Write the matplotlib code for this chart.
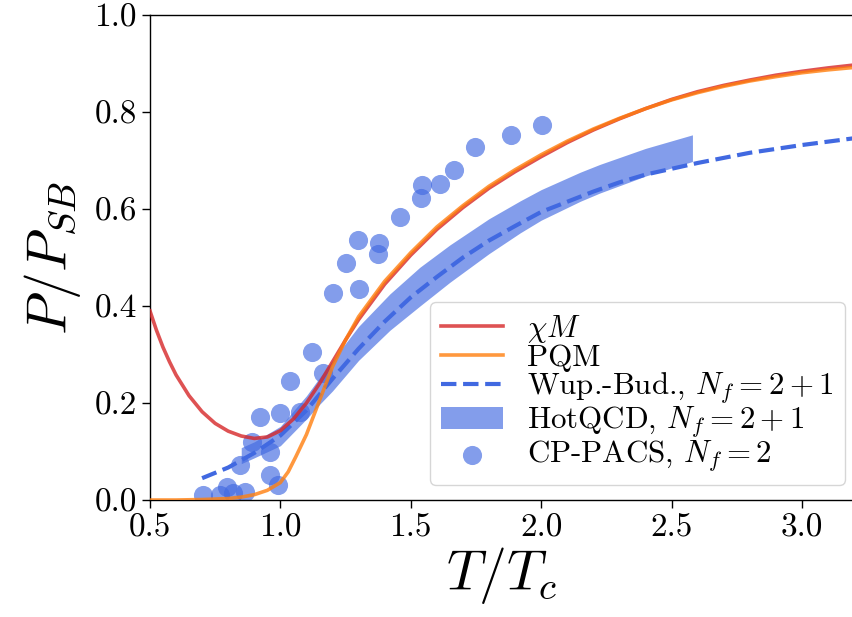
import numpy as np
import matplotlib
matplotlib.use("Agg")
import matplotlib.pyplot as plt

plt.rcParams['font.family'] = 'serif'
plt.rcParams['font.serif'] = ['cmr10', 'DejaVu Serif']
plt.rcParams['mathtext.fontset'] = 'cm'
plt.rcParams['axes.formatter.use_mathtext'] = True

# chiM model
chim_T = [0.5, 0.525, 0.55, 0.575, 0.6, 0.65, 0.7, 0.75, 0.8, 0.85, 0.9, 0.95, 1.0, 1.05,
          1.1, 1.15, 1.2, 1.25, 1.3, 1.4, 1.5, 1.6, 1.7, 1.8, 1.9, 2.0, 2.1, 2.2, 2.3,
          2.4, 2.5, 2.6, 2.7, 2.8, 2.9, 3.0, 3.1, 3.2]
chim_P = [0.39, 0.35, 0.315, 0.285, 0.258, 0.215, 0.182, 0.158, 0.142, 0.132, 0.127,
          0.13, 0.143, 0.167, 0.2, 0.24, 0.285, 0.33, 0.372, 0.445, 0.505, 0.558, 0.603,
          0.643, 0.677, 0.708, 0.737, 0.763, 0.786, 0.807, 0.826, 0.842, 0.855, 0.866,
          0.876, 0.884, 0.891, 0.897]

# PQM model
pqm_T = [0.5, 0.6, 0.7, 0.8, 0.85, 0.9, 0.95, 1.0, 1.03, 1.06, 1.1, 1.15, 1.2, 1.25,
         1.3, 1.4, 1.5, 1.6, 1.7, 1.8, 1.9, 2.0, 2.1, 2.2, 2.3, 2.4, 2.5, 2.6, 2.7,
         2.8, 2.9, 3.0, 3.1, 3.2]
pqm_P = [0.0, 0.0, 0.001, 0.003, 0.006, 0.011, 0.02, 0.036, 0.058, 0.09, 0.135, 0.205,
         0.275, 0.33, 0.378, 0.451, 0.51, 0.563, 0.607, 0.647, 0.681, 0.712, 0.74, 0.765,
         0.787, 0.807, 0.825, 0.84, 0.853, 0.864, 0.873, 0.881, 0.887, 0.892]

# Wuppertal-Budapest, Nf=2+1
wb_T = [0.7, 0.8, 0.9, 1.0, 1.1, 1.2, 1.3, 1.4, 1.5, 1.6, 1.7, 1.8, 1.9, 2.0, 2.1,
        2.2, 2.3, 2.4, 2.6, 2.8, 3.0, 3.2]
wb_P = [0.045, 0.067, 0.097, 0.133, 0.185, 0.25, 0.312, 0.368, 0.418, 0.46, 0.50,
        0.535, 0.565, 0.594, 0.615, 0.636, 0.655, 0.671, 0.695, 0.716, 0.732, 0.746]

# HotQCD band, Nf=2+1
hq_T = [0.85, 0.9, 1.0, 1.1, 1.15, 1.2, 1.3, 1.42, 1.535, 1.65, 1.8, 1.92, 2.0, 2.15,
        2.225, 2.4, 2.58]
hq_lo = [0.075, 0.087, 0.112, 0.167, 0.197, 0.225, 0.288, 0.35, 0.40, 0.449, 0.508,
         0.551, 0.577, 0.616, 0.633, 0.668, 0.698]
hq_hi = [0.108, 0.12, 0.152, 0.215, 0.252, 0.288, 0.358, 0.425, 0.48, 0.526, 0.58,
         0.617, 0.64, 0.676, 0.692, 0.725, 0.753]

# CP-PACS, Nf=2
cp_T = [0.704, 0.768, 0.794, 0.819, 0.864, 0.845, 0.89, 0.922, 0.96, 0.96, 0.992,
        0.998, 1.037, 1.075, 1.122, 1.165, 1.203, 1.252, 1.299, 1.303, 1.376, 1.378,
        1.459, 1.538, 1.544, 1.612, 1.666, 1.746, 1.884, 2.002]
cp_P = [0.010, 0.010, 0.027, 0.014, 0.017, 0.072, 0.12, 0.172, 0.10, 0.052, 0.031,
        0.179, 0.245, 0.182, 0.305, 0.262, 0.426, 0.489, 0.536, 0.436, 0.507, 0.530,
        0.584, 0.623, 0.649, 0.651, 0.68, 0.728, 0.753, 0.773]

xticks = [0.5, 1.0, 1.5, 2.0, 2.5, 3.0]
yticks = [0.0, 0.2, 0.4, 0.6, 0.8, 1.0]

fig = plt.figure(figsize=(8.52, 6.17), dpi=100)
ax = fig.add_axes([0.176, 0.1896, 0.8265, 0.786])

ax.plot(chim_T, chim_P, color='tab:red', alpha=0.8, lw=2.6, label=r'$\chi M$', zorder=3)
ax.plot(pqm_T, pqm_P, color='tab:orange', alpha=0.8, lw=2.6, label='PQM', zorder=3)
ax.plot(wb_T, wb_P, color='royalblue', lw=3, ls='--', label=r'Wup.-Bud., $N_f=2+1$', zorder=2)
ax.fill_between(hq_T, hq_lo, hq_hi, color='royalblue', alpha=0.65, lw=0,
                label=r'HotQCD, $N_f=2+1$', zorder=1)
ax.scatter(cp_T, cp_P, s=190, color='royalblue', alpha=0.65, lw=0,
           label=r'CP-PACS, $N_f=2$', zorder=2)

ax.set_xlim(0.5, 3.2)
ax.set_ylim(0.0, 1.0)
ax.set_xticks(xticks)
ax.set_yticks(yticks)
ax.set_xticklabels([f'{v:.1f}' for v in xticks])
ax.set_yticklabels([f'{v:.1f}' for v in yticks])
ax.tick_params(labelsize=24, length=6, width=1)
ax.set_xlabel(r'$T/T_c$', fontsize=40, labelpad=2)
ax.set_ylabel(r'$P/P_{SB}$', fontsize=40, labelpad=8)
for sp in ax.spines.values():
    sp.set_linewidth(1.0)

ax.legend(loc='lower right', fontsize=22.3, labelspacing=-0.03, handlelength=2.0,
          borderpad=0.35, handletextpad=0.8, borderaxespad=0,
          bbox_to_anchor=(0.987, 0.031))

fig.savefig('out.png', dpi=100)
